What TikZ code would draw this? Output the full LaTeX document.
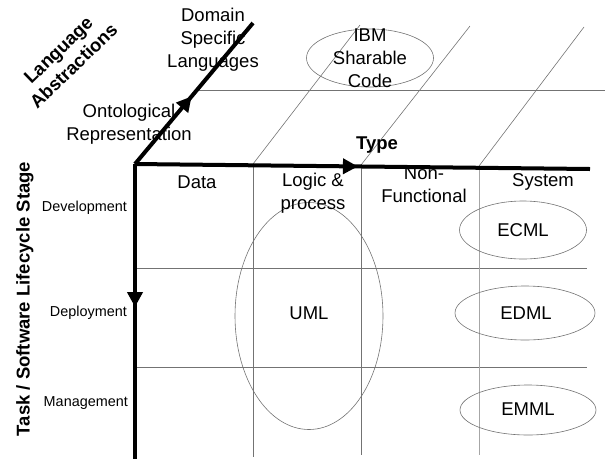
\documentclass[tikz,border=0pt]{standalone}
\usepackage{fontspec}
\setmainfont{Liberation Sans}
\usetikzlibrary{arrows.meta,decorations.markings,shapes.geometric}
\begin{document}
\begin{tikzpicture}[x=1pt,y=-1pt,
  axis/.style={line width=4pt,postaction={decorate},
    decoration={markings,mark=at position #1 with {\arrow{Triangle[length=15pt,width=15pt]}}}},
  grid/.style={draw=black!55,line width=0.6pt},
  oval/.style={draw=black!55,line width=0.6pt,ellipse},
  lbl/.style={inner sep=0pt,align=center,font=\fontsize{18.5}{23}\selectfont},
  blbl/.style={inner sep=0pt,align=center,font=\fontsize{18.5}{22}\selectfont\bfseries},
  slbl/.style={inner sep=0pt,anchor=east,font=\fontsize{14.4}{16}\selectfont}]
\useasboundingbox (0,0) rectangle (605,459);
% coordinates
\coordinate (O) at (135,164);
\coordinate (Xe) at (590,169);
\coordinate (Ye) at (135,459);
\coordinate (Ze) at (253,23);
% grid
\coordinate (g1a) at (197,90); \coordinate (g1b) at (605,90);
\coordinate (h1a) at (135,268); \coordinate (h1b) at (587,268);
\coordinate (h2a) at (135,367); \coordinate (h2b) at (587,367);
\coordinate (v1a) at (253,164); \coordinate (v1b) at (253,457);
\coordinate (v2a) at (361,165); \coordinate (v2b) at (361,455);
\coordinate (v3a) at (479,166); \coordinate (v3b) at (479,455);
\coordinate (d1b) at (360,25);
\coordinate (d2b) at (470,26);
\coordinate (d3b) at (584,27);
\draw[grid] (g1a) -- (g1b);
\draw[grid] (h1a) -- (h1b);
\draw[grid] (h2a) -- (h2b);
\draw[grid] (v1a) -- (v1b);
\draw[grid] (v2a) -- (v2b);
\draw[grid,draw=black!35,line width=0.9pt] (v3a) -- (v3b);
\draw[grid] (v1a) -- (d1b);
\draw[grid] (v2a) -- (d2b);
\draw[grid] (v3a) -- (d3b);
% ellipses
\node[oval,minimum width=127pt,minimum height=58pt] (ibmE) at (370,58) {};
\node[oval,minimum width=148pt,minimum height=227pt] (umlE) at (309,316) {};
\node[oval,minimum width=127pt,minimum height=58pt] (ecmlE) at (523,230) {};
\node[oval,minimum width=140pt,minimum height=54pt] (edmlE) at (525,313) {};
\node[oval,minimum width=136pt,minimum height=50pt] (emmlE) at (528,410) {};
% texts
\node[lbl] (ibm) at (370,58) {IBM\\Sharable\\Code};
\node[lbl] (uml) at (309,313) {UML};
\node[lbl] (ecml) at (523,230) {ECML};
\node[lbl] (edml) at (526,313) {EDML};
\node[lbl] (emml) at (528,409) {EMML};
\node[lbl] (dsl) at (213,40) {Domain\\Specific\\Languages};
\node[lbl] (onto) at (129,124) {Ontological\\Representation};
\node[lbl] (data) at (197,182) {Data};
\node[lbl] (logic) at (313,193) {Logic \&\\process};
\node[lbl] (nonf) at (424,185) {Non-\\Functional};
\node[lbl] (sys) at (543,182) {System};
\node[blbl] (type) at (377,145) {Type};
\node[blbl,rotate=44] (lang) at (66,58) {Language\\Abstractions};
\node[blbl,rotate=90] (task) at (25,299) {Task / Software Lifecycle Stage};
\node[slbl] (dev) at (127,208) {Development};
\node[slbl] (dep) at (127,313) {Deployment};
\node[slbl] (man) at (128,403) {Management};
% axes
\draw[axis=0.49] (O) -- (Xe);
\draw[axis=0.485] (O) -- (Ye);
\draw[axis=0.48] (O) -- (Ze);
\end{tikzpicture}
\end{document}
